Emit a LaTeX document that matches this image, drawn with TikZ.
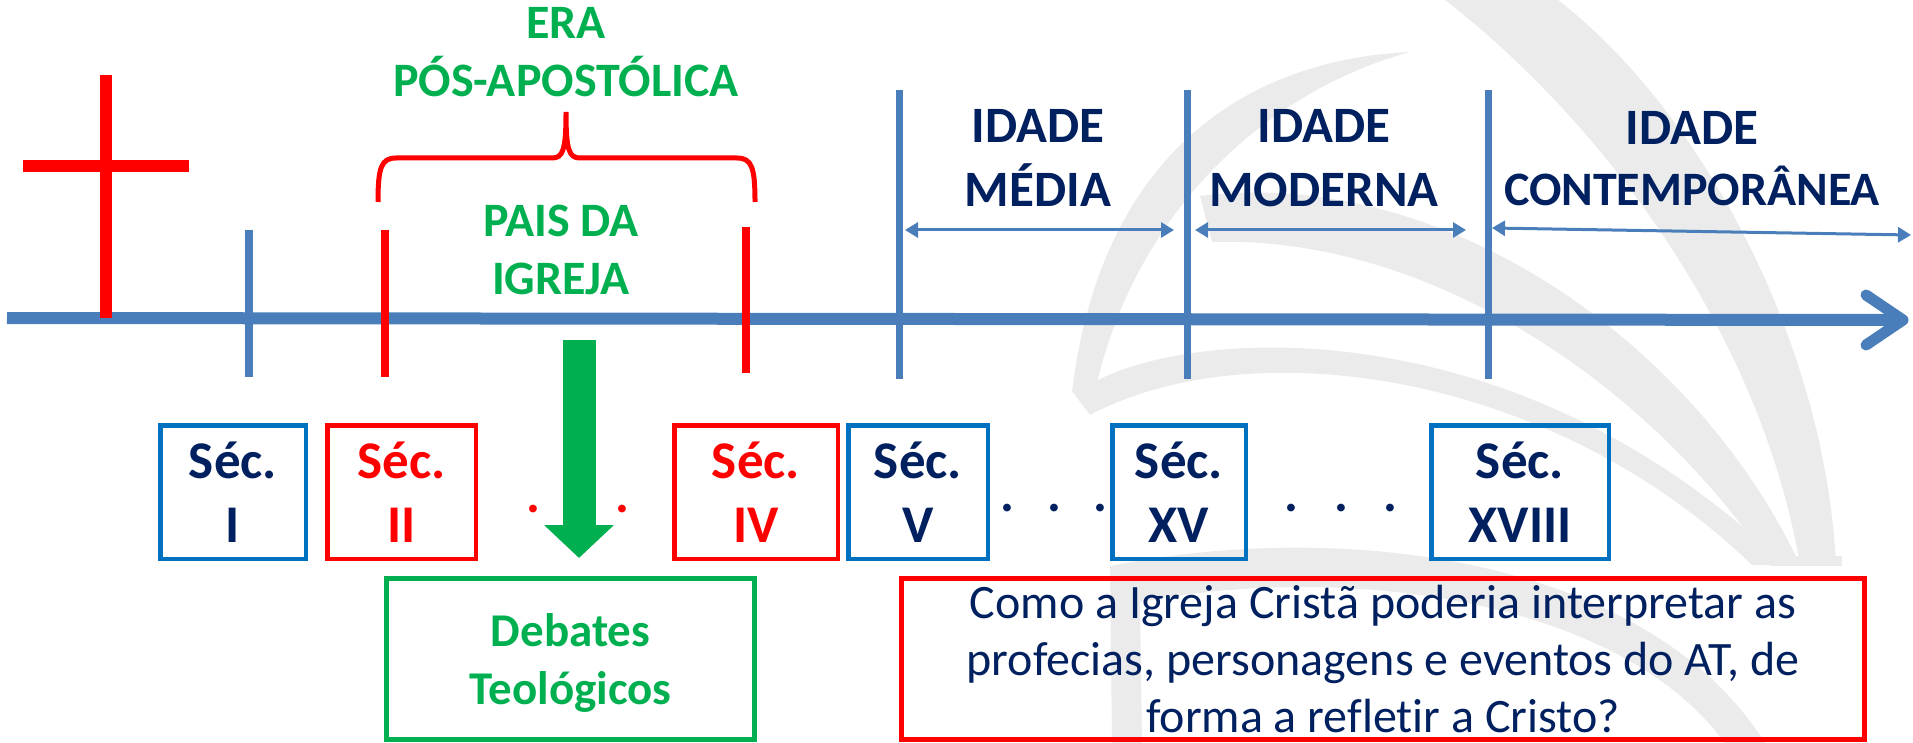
\documentclass[tikz,border=0pt]{standalone}
\usepackage{fontspec}
\setmainfont{Carlito}[Ligatures=NoCommon]
\usetikzlibrary{arrows.meta}
\definecolor{axisblue}{HTML}{4A7EBB}
\definecolor{boxblue}{HTML}{0070C0}
\definecolor{navy}{HTML}{002060}
\definecolor{myred}{HTML}{FF0000}
\definecolor{mygreen}{HTML}{00B050}
\definecolor{wmark}{HTML}{EBEBEB}
\tikzset{
  lbl/.style={inner sep=0pt, align=center, text depth=0pt},
  navyB/.style={lbl, text=navy, font=\fontsize{51}{64}\selectfont\bfseries},
  greenB/.style={lbl, text=mygreen, font=\fontsize{48}{58}\selectfont\bfseries},
  secbox/.style={draw, line width=4.5pt, inner sep=0pt, align=center, text depth=0pt,
    minimum height=133.5pt, font=\fontsize{53}{64}\selectfont\bfseries},
  bluesec/.style={secbox, draw=boxblue, text=navy},
  redsec/.style={secbox, draw=myred, text=myred},
  tick/.style={line width=7.5pt},
  period/.style={axisblue, line width=7pt},
  span/.style={axisblue, line width=3pt, {Triangle[length=13pt,width=15pt]}-{Triangle[length=13pt,width=15pt]}},
  dotsB/.style={inner sep=0pt, anchor=base, font=\fontsize{52}{64}\selectfont\bfseries},
}
\begin{document}
\begin{tikzpicture}[x=1pt,y=-1pt]
\useasboundingbox (0,0) rectangle (1913,743);
% watermark
\fill[wmark] (1445,0) .. controls (1600,120) and (1760,330) .. (1800,565) -- (1836,565) .. controls (1825,340) and (1700,110) .. (1558,0) -- cycle;
\fill[wmark] (1410,52) .. controls (1240,60) and (1100,160) .. (1072,392) -- (1092,405) .. controls (1130,210) and (1270,90) .. (1410,52) -- cycle;
\fill[wmark] (1075,395) .. controls (1150,330) and (1500,290) .. (1785,565) -- (1752,565) .. controls (1550,370) and (1250,330) .. (1090,415) -- cycle;
\fill[wmark] (1200,196) .. controls (1450,165) and (1700,350) .. (1800,565) -- (1770,565) .. controls (1650,385) and (1430,235) .. (1212,242) -- cycle;
\fill[wmark] (1770,556) rectangle (1842,566);
\fill[wmark] (1110,566) .. controls (1350,518) and (1650,560) .. (1765,743) -- (1725,743) .. controls (1620,600) and (1350,562) .. (1140,602) -- (1142,743) -- (1112,743) -- cycle;
% axis
\coordinate (axS) at (7,318);
\coordinate (axE) at (1903,320);
\draw[axisblue, line width=12pt] (axS) -- (axE);
\draw[axisblue, line width=11pt, line cap=round, line join=round] (1866,295) -- (axE) -- (1866,345);
% cross
\coordinate (crT) at (106,75); \coordinate (crB) at (106,318);
\coordinate (crL) at (23,166); \coordinate (crR) at (189,166);
\draw[myred, line width=12pt] (crT) -- (crB);
\draw[myred, line width=12pt] (crL) -- (crR);
% ticks
\coordinate (t1a) at (249,230); \coordinate (t1b) at (249,377);
\coordinate (t2a) at (385,230); \coordinate (t2b) at (385,377);
\coordinate (t3a) at (746,227); \coordinate (t3b) at (746,373);
\draw[tick, axisblue] (t1a) -- (t1b);
\draw[tick, myred] (t2a) -- (t2b);
\draw[tick, myred] (t3a) -- (t3b);
% period lines
\coordinate (p1a) at (899,90); \coordinate (p1b) at (899,379);
\coordinate (p2a) at (1187,90); \coordinate (p2b) at (1187,379);
\coordinate (p3a) at (1488,90); \coordinate (p3b) at (1488,379);
\draw[period] (p1a) -- (p1b);
\draw[period] (p2a) -- (p2b);
\draw[period] (p3a) -- (p3b);
% spans
\coordinate (s1a) at (905,230); \coordinate (s1b) at (1174,230);
\coordinate (s2a) at (1195,230); \coordinate (s2b) at (1466,230);
\coordinate (s3a) at (1492,228); \coordinate (s3b) at (1911,235);
\draw[span] (s1a) -- (s1b);
\draw[span] (s2a) -- (s2b);
\draw[span] (s3a) -- (s3b);
% period labels
\node[navyB, anchor=south] (idm) at (1038,207) {IDADE\\MÉDIA};
\node[navyB, anchor=south] (idmo) at (1324,207) {IDADE\\MODERNA};
\node[navyB, anchor=south, font=\fontsize{48}{61}\selectfont\bfseries] (idc) at (1692,206) {\fontsize{51}{61}\selectfont IDADE\\CONTEMPORÂNEA};
% bracket
\coordinate (brL) at (378,202); \coordinate (brR) at (755,202); \coordinate (brM) at (566,112);
\draw[myred, line width=5pt] (brL) .. controls (378,168) and (381,158) .. (396,158) -- (552,158)
  .. controls (563,158) and (566,150) .. (brM) .. controls (566,150) and (569,158) .. (580,158)
  -- (737,158) .. controls (752,158) and (755,168) .. (brR);
\node[greenB, anchor=south] (era) at (566,97) {ERA\\PÓS-APOSTÓLICA};
\node[greenB, anchor=south] (pais) at (561,295) {PAIS DA\\IGREJA};
% centuries
\node[bluesec, minimum width=145.5pt] (sI) at (233,492) {Séc.\\I};
\node[redsec, minimum width=148.5pt] (sII) at (401.5,492) {Séc.\\II};
\node[dotsB, text=myred] (rdots) at (578,512) {.\hspace{31pt}.\hspace{31pt}.};
\node[redsec, minimum width=163.5pt] (sIV) at (756,492) {Séc.\\IV};
\node[bluesec, minimum width=139.5pt] (sV) at (918,492) {Séc.\\V};
\node[dotsB, text=navy] (ndots1) at (1054,511) {.\hspace{33pt}.\hspace{33pt}.};
\node[bluesec, minimum width=133.5pt] (sXV) at (1179,492) {Séc.\\XV};
\node[dotsB, text=navy] (ndots2) at (1341,511) {.\hspace{36pt}.\hspace{36pt}.};
\node[bluesec, minimum width=177.5pt] (sXVIII) at (1520,492) {Séc.\\XVIII};
% green arrow
\coordinate (gaT) at (579,340); \coordinate (gaB) at (579,558);
\draw[mygreen, line width=33pt, -{Triangle[length=33pt,width=68pt]}] (gaT) -- (gaB);
% bottom boxes
\node[draw=mygreen, line width=5pt, inner sep=0pt, align=center, text depth=0pt,
  minimum width=368pt, minimum height=161pt, text=mygreen,
  font=\fontsize{47}{58}\selectfont\bfseries] (deb) at (570.5,659) {Debates\\Teológicos};
\node[draw=myred, line width=5pt, inner sep=0pt, align=center, text depth=0pt,
  minimum width=963pt, minimum height=161pt, text=navy,
  font=\fontsize{48}{57}\selectfont] (q) at (1383,659)
  {Como a Igreja Cristã poderia interpretar as\\profecias, personagens e eventos do AT, de\\forma a refletir a Cristo?};
\end{tikzpicture}
\end{document}
